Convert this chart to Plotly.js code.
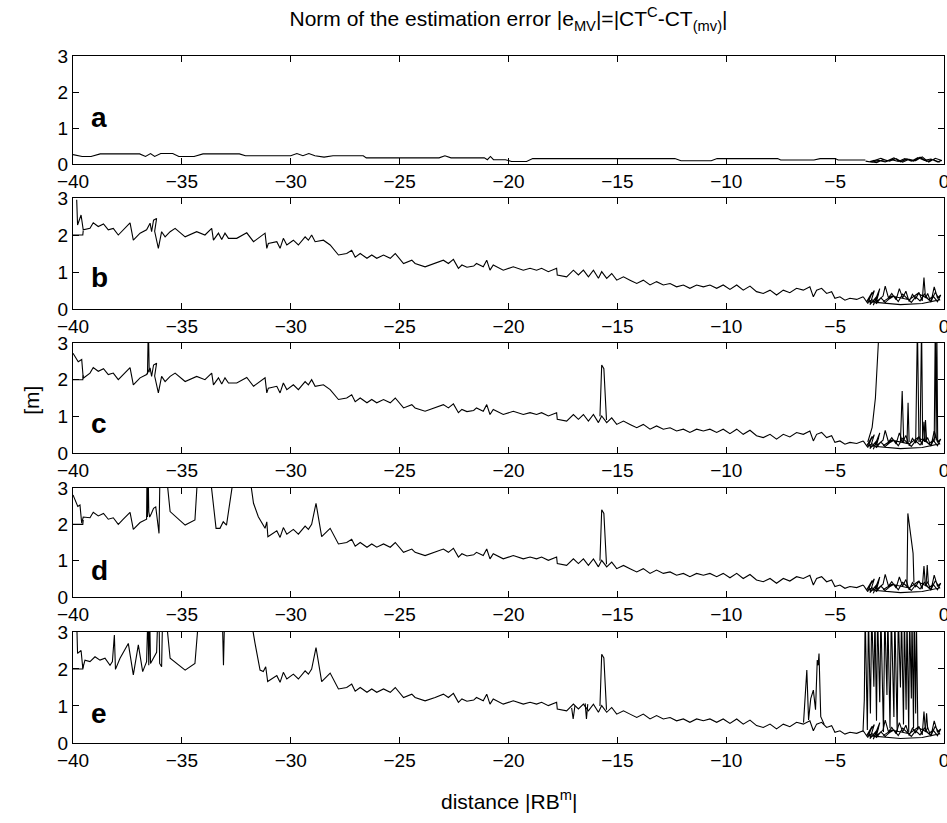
<!DOCTYPE html>
<html><head><meta charset="utf-8">
<script src="https://cdn.plot.ly/plotly-3.0.1.min.js"></script>
<style>html,body{margin:0;padding:0;background:#fff}</style>
</head><body><div id="chart" style="width:947px;height:823px"></div>
<script>
// ---------- data ----------
const panelLetters = ['a','b','c','d','e'];
const xTicks = [-40,-35,-30,-25,-20,-15,-10,-5,0];
const yTicks = [0,1,2,3];

// panel a
const aX = [-40,-39.58,-39.17,-38.75,-36.94,-36.67,-36.44,-36.25,-35.97,-35.42,-35.14,-34.44,-34.03,-32.36,-32.08,-30.0,-29.72,-29.44,-29.17,-28.89,-28.47,-28.06,-26.67,-26.53,-23.19,-22.92,-22.64,-21.11,-20.97,-20.83,-20.69,-20.14,-19.86,-19.17,-18.89,-12.36,-12.08,-10.69,-10.42,-7.64,-7.5,-5.97,-5.69,-5.0,-4.86,-3.61];
const aY = [0.26,0.21,0.21,0.28,0.28,0.21,0.29,0.21,0.29,0.29,0.21,0.21,0.28,0.28,0.23,0.23,0.29,0.23,0.29,0.23,0.19,0.23,0.23,0.17,0.17,0.23,0.17,0.17,0.12,0.21,0.12,0.12,0.07,0.07,0.15,0.15,0.09,0.09,0.15,0.15,0.11,0.11,0.15,0.15,0.11,0.11];
const aClusterX = [-3.6,-3.3,-3.0,-2.7,-2.4,-2.1,-1.8,-1.5,-1.2,-0.9,-0.6,-0.3,-0.1,-0.4,-0.7,-1.0,-1.3,-1.6,-1.9,-2.2,-2.5,-2.8,-3.1,-3.4,-3.2,-2.9,-2.6,-2.3,-2.0,-1.7,-1.4,-1.1,-0.8,-0.5,-0.2];
const aClusterY = [0.08,0.05,0.1,0.06,0.12,0.07,0.15,0.08,0.18,0.1,0.14,0.06,0.1,0.16,0.05,0.2,0.09,0.13,0.05,0.15,0.08,0.12,0.04,0.07,0.1,0.16,0.09,0.17,0.06,0.14,0.08,0.19,0.07,0.12,0.05];

// starts of panels b-e (short stub at y=2, then the start of the path)
const stubX = [-40,-39.55,-39.53];
const stubY = [2.0,2.0,2.12];
const startBX = [-39.83,-39.79,-39.63,-39.53];
const startBY = [2.95,2.27,2.54,2.14];
const startCX = [-40,-39.83,-39.76,-39.6,-39.53];
const startCY = [2.72,2.54,2.49,2.55,2.04];
const startDX = [-40,-39.86,-39.78,-39.68,-39.6,-39.53];
const startDY = [2.81,2.58,2.49,2.53,2.03,2.2];
const startEX = [-39.84,-39.79,-39.63,-39.55];
const startEY = [3.5,2.42,2.5,2.02];

// early part shared by b, c, d
const earlyX = [-39.22,-39.07,-38.84,-38.6,-38.38,-38.15,-37.92,-37.69,-37.38,-37.23,-36.92,-36.62];
const earlyY = [2.18,2.33,2.23,2.3,2.14,2.18,2.0,2.14,2.33,1.86,2.05,2.14];

// -36.5 .. -31 for b, c
const secBCX = [-36.46,-36.39,-36.3,-36.16,-36.25,-36.08,-35.93,-35.77,-35.54,-35.31,-34.85,-34.32,-33.94,-33.63,-33.55,-33.32,-33.17,-33.02,-32.86,-32.48,-32.02,-31.71,-31.41,-31.18,-31.1,-31.03];
const secBCY = [2.32,2.09,2.4,2.45,2.1,1.64,2.09,1.95,2.09,2.18,1.95,2.09,2.0,2.18,1.86,2.05,1.88,2.05,1.91,1.91,2.06,1.82,1.95,2.05,1.64,1.77];
// -36.6 .. -31 for d
const secDX = [-36.6,-36.58,-36.55,-36.52,-36.48,-36.4,-36.3,-36.2,-36.12,-36.05,-36.0,-35.75,-35.54,-34.85,-34.4,-34.25,-33.75,-33.43,-33.25,-33.1,-32.95,-32.55,-31.95,-31.71,-31.49,-31.26,-31.18,-31.1,-31.05];
const secDY = [3.5,2.2,3.5,2.35,2.2,2.3,2.44,2.48,2.1,1.75,3.6,3.6,2.35,1.98,2.12,3.6,3.6,1.89,1.89,2.07,1.98,3.6,3.6,2.58,2.21,1.94,1.89,2.07,1.66];
// -39.5 .. -31 for e
const secEX = [-39.45,-39.22,-38.99,-38.76,-38.53,-38.3,-38.19,-38.1,-38.05,-37.84,-37.46,-37.23,-37.0,-36.8,-36.62,-36.56,-36.52,-36.48,-36.44,-36.3,-36.16,-36.1,-36.05,-36.02,-35.93,-35.88,-35.76,-35.54,-34.85,-34.4,-34.2,-33.15,-33.09,-33.03,-31.9,-31.64,-31.41,-31.26,-31.15,-31.06];
const secEY = [2.24,2.2,2.33,2.24,2.29,2.1,2.2,2.92,1.99,2.29,2.69,1.84,2.65,1.93,2.2,3.5,2.1,3.5,2.15,2.3,2.45,3.5,3.5,2.15,2.06,3.6,3.6,2.29,1.97,2.15,3.6,3.6,2.1,3.6,3.6,2.69,1.97,1.93,2.06,1.66];

// -30.6 .. -29 shared by b-e
const lateX = [-30.64,-30.49,-30.34,-30.18,-29.88,-29.65,-29.34,-29.19,-29.04];
const lateY = [1.82,1.64,1.91,1.73,1.86,1.73,1.95,1.86,2.0];
const tailBCX = [-28.88,-28.5,-28.19];
const tailBCY = [1.82,1.86,1.73];
const tailDEX = [-28.84,-28.58,-28.19];
const tailDEY = [2.58,1.66,1.89];

// -27.8 .. -3.7 shared by b-e
const midX = [-27.81,-27.43,-27.2,-27.04,-26.81,-26.5,-26.28,-26.05,-25.74,-25.43,-25.2,-24.82,-24.44,-24.29,-23.83,-23.37,-22.99,-22.76,-22.53,-22.3,-22.14,-21.91,-21.6,-21.47,-21.16,-21.0,-20.85,-20.7,-20.55,-20.24,-19.78,-19.32,-19.01,-18.71,-18.48,-18.17,-17.79,-17.76,-17.33,-17.02,-16.79,-16.56,-16.33,-16.1,-15.87,-15.72,-15.49,-15.26,-15.03,-14.72,-14.42,-14.11,-13.81,-13.5,-13.2,-12.89,-12.58,-12.28,-11.97,-11.67,-11.36,-11.05,-10.75,-10.44,-10.14,-9.83,-9.52,-9.22,-8.91,-8.61,-8.3,-7.99,-7.69,-7.38,-7.08,-6.77,-6.46,-6.16,-6.0,-5.85,-5.62,-5.39,-5.16,-5.01,-4.78,-4.55,-4.32,-4.01,-3.71];
const midY = [1.46,1.5,1.59,1.4,1.5,1.37,1.46,1.37,1.46,1.37,1.5,1.23,1.32,1.23,1.14,1.23,1.32,1.23,1.34,1.1,1.19,1.13,1.16,1.23,1.14,1.32,1.05,1.19,1.14,1.05,1.14,1.05,1.1,1.05,1.1,1.01,1.1,0.92,0.87,1.05,0.92,1.05,0.87,1.05,0.83,1.01,0.83,0.96,0.78,0.87,0.78,0.69,0.78,0.65,0.74,0.65,0.69,0.6,0.65,0.56,0.65,0.6,0.65,0.56,0.65,0.53,0.65,0.51,0.62,0.47,0.42,0.51,0.38,0.51,0.44,0.56,0.51,0.6,0.33,0.51,0.56,0.42,0.47,0.29,0.33,0.24,0.29,0.26,0.33];

// tangled end region (b-e)
const bandX = [-3.71,-3.5,-3.3,-3.55,-3.2,-3.4,-3.0,-3.25,-2.95,-3.1,-2.8,-2.7,-2.55,-2.4,-2.2,-2.05,-1.9,-1.75,-1.6,-1.45,-1.3,-1.15,-1.0,-0.92,-0.85,-0.75,-0.6,-0.45,-0.3,-0.15,-0.3,-0.5,-0.7,-0.9,-1.1,-1.3,-1.5,-1.7,-1.9,-2.1,-2.3,-2.5,-2.7,-2.9,-3.1,-3.3,-3.5,-2.0,-1.0,-0.2,-0.4,-0.6,-0.8,-1.2,-1.6,-2.4,-2.8];
const bandY = [0.33,0.15,0.45,0.2,0.5,0.12,0.4,0.1,0.55,0.2,0.35,0.62,0.3,0.42,0.25,0.55,0.3,0.48,0.2,0.4,0.28,0.45,0.22,0.85,0.3,0.42,0.18,0.6,0.3,0.38,0.2,0.35,0.25,0.4,0.22,0.33,0.18,0.3,0.4,0.2,0.35,0.28,0.18,0.3,0.15,0.25,0.2,0.12,0.15,0.25,0.45,0.2,0.3,0.42,0.25,0.35,0.2];

// outliers
const spike36CX = [-36.58,-36.54,-36.5];
const spike36CY = [2.15,3.5,2.2];
const spike15X = [-15.8,-15.72,-15.62,-15.5];
const spike15Y = [1.0,2.4,2.3,0.9];
const endCX = [-3.5,-3.3,-3.15,-3.05,-2.97,null,-2.0,-1.92,-1.85,null,-1.7,-1.65,-1.6,null,-1.3,-1.22,-1.15,null,-1.1,-1.03,-0.98,null,-0.9,-0.85,-0.8,null,-0.45,-0.4,-0.36,-0.33,-0.29];
const endCY = [0.3,0.7,1.5,2.5,3.5,null,0.3,1.69,0.3,null,0.25,1.37,0.3,null,0.3,3.5,0.3,null,0.3,3.5,0.35,null,0.3,0.9,0.35,null,0.3,3.5,0.35,3.5,0.3];
const endDX = [-1.7,-1.66,-1.55,-1.42,-1.38,null,-0.82,-0.77,-0.72];
const endDY = [0.3,2.3,1.8,1.2,0.4,null,0.35,0.88,0.4];
const dipsEX = [-17.1,-17.03,-16.95,null,-16.48,-16.42,-16.36];
const dipsEY = [0.95,0.65,1.0,null,1.07,0.65,1.05];
const spike6EX = [-6.45,-6.3,-6.22,-6.12,-6.0,-5.9,-5.82,-5.78,-5.74,-5.66,-5.5];
const spike6EY = [0.55,1.97,0.62,1.2,1.43,0.9,2.24,2.1,2.42,0.71,0.5];
const endEX = [-3.72,-3.66,-3.62,-3.52,-3.47,-3.38,-3.32,-3.22,-3.17,-3.1,-3.05,-2.95,-2.9,-2.78,-2.72,-2.62,-2.58,-2.48,-2.42,-2.3,-2.26,-2.15,-2.1,-2.0,-1.95,-1.86,-1.82,-1.74,-1.7,-1.62,-1.58,-1.5,-1.47,-1.4,-1.37,-1.3,-1.27,-1.2,null,-0.85,-0.8,-0.75];
const endEY = [0.3,1.16,3.5,0.35,3.5,0.8,3.5,1.52,3.5,0.6,3.5,1.1,3.5,0.3,3.5,1.3,3.5,0.4,3.5,0.7,3.5,0.3,3.5,1.5,3.5,0.5,3.5,0.9,3.5,0.3,3.5,1.2,3.5,0.4,3.5,0.8,3.5,0.35,null,0.35,0.8,0.4];

// ---------- assembly ----------
const cat = (...a) => [].concat(...a);
const panels = [
  [[aX,aY],[aClusterX,aClusterY]],
  [[stubX,stubY],[cat(startBX,earlyX,secBCX,lateX,tailBCX,midX), cat(startBY,earlyY,secBCY,lateY,tailBCY,midY)],[bandX,bandY]],
  [[stubX,stubY],[cat(startCX,earlyX,secBCX,lateX,tailBCX,midX), cat(startCY,earlyY,secBCY,lateY,tailBCY,midY)],[bandX,bandY],[spike36CX,spike36CY],[spike15X,spike15Y],[endCX,endCY]],
  [[stubX,stubY],[cat(startDX,earlyX,secDX,lateX,tailDEX,midX), cat(startDY,earlyY,secDY,lateY,tailDEY,midY)],[bandX,bandY],[spike15X,spike15Y],[endDX,endDY]],
  [[stubX,stubY],[cat(startEX,secEX,lateX,tailDEX,midX), cat(startEY,secEY,lateY,tailDEY,midY)],[bandX,bandY],[spike15X,spike15Y],[dipsEX,dipsEY],[spike6EX,spike6EY],[endEX,endEY]]
];
const traces = [];
panels.forEach((p,i) => {
  const s = i === 0 ? '' : String(i+1);
  p.forEach(([x,y]) => {
    traces.push({x:x, y:y, type:'scatter', mode:'lines', xaxis:'x'+s, yaxis:'y'+s,
      line:{color:'#000', width:1.1}, hoverinfo:'skip', showlegend:false});
  });
});

const font = 'Liberation Sans, Arial, Helvetica, sans-serif';
const domains = [[0.8428,1.0],[0.6317,0.7933],[0.4221,0.5822],[0.2125,0.3712],[0.0,0.1616]];
const letterY = [1.29,0.85,0.81,0.74,0.8];
const layout = {
  width:947, height:823,
  margin:{l:73, r:3, t:56, b:80},
  paper_bgcolor:'#fff', plot_bgcolor:'#fff',
  font:{family:font, size:19, color:'#000'},
  title:{text:'Norm of the estimation error |e<sub>MV</sub>|=|CT<sup>C</sup>-CT<sub>(mv)</sub>|',
    font:{family:font, size:21, color:'#000'}, xref:'paper', x:0.5, xanchor:'center',
    yref:'container', y:0.977, yanchor:'middle'},
  annotations:[],
  showlegend:false
};
domains.forEach((d,i) => {
  const s = i === 0 ? '' : String(i+1);
  layout['xaxis'+s] = {domain:[0,1], anchor:'y'+s, range:[-40,0], tickvals:xTicks,
    ticks:'inside', ticklen:6, tickcolor:'#000', showline:true, linecolor:'#000', linewidth:1,
    mirror:'ticks', showgrid:false, zeroline:false, ticklabeloverflow:'allow',
    tickfont:{family:font, size:19, color:'#000'}};
  layout['yaxis'+s] = {domain:d, anchor:'x'+s, range:[0,3], tickvals:yTicks,
    ticks:'inside', ticklen:6, tickcolor:'#000', showline:true, linecolor:'#000', linewidth:1,
    mirror:'ticks', showgrid:false, zeroline:false, ticklabeloverflow:'allow',
    tickfont:{family:font, size:19, color:'#000'}};
  layout.annotations.push({xref:'x'+s, yref:'y'+s, x:-38.8, y:letterY[i], text:'<b>'+panelLetters[i]+'</b>',
    showarrow:false, font:{family:font, size:28, color:'#000'}});
});
layout.annotations.push({xref:'paper', yref:'paper', x:-0.063, y:0.499, text:'[m]', textangle:-90,
  showarrow:false, font:{family:font, size:21, color:'#000'}});
layout.annotations.push({xref:'paper', yref:'paper', x:0.5, y:-0.083, yanchor:'middle', text:'distance |RB<sup>m</sup>|',
  showarrow:false, font:{family:font, size:21, color:'#000'}});

Plotly.newPlot('chart', traces, layout, {staticPlot:true, displayModeBar:false});
</script></body></html>
